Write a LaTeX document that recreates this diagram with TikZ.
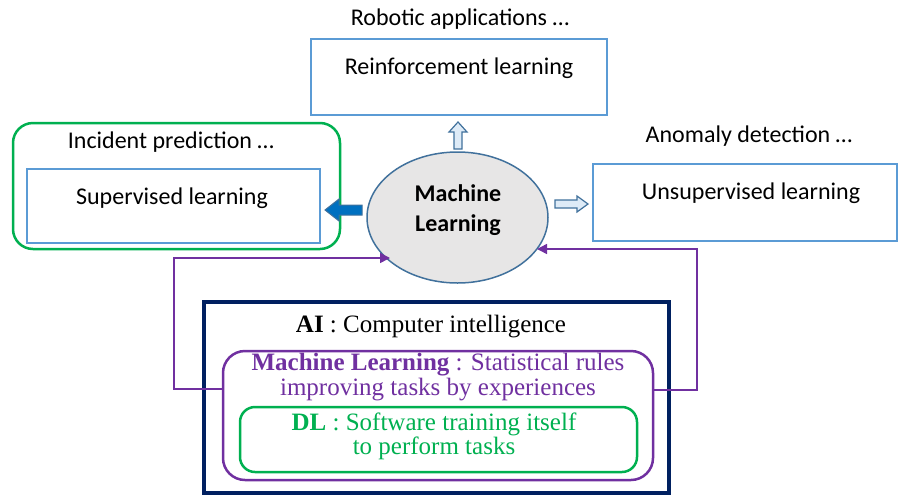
\documentclass[tikz,border=0pt]{standalone}
\usepackage{fontspec}
\setmainfont{Liberation Serif}
\newfontfamily\calibri{Carlito}
\usetikzlibrary{arrows.meta,shapes.geometric}
\definecolor{boxblue}{HTML}{5B9BD5}
\definecolor{ellblue}{HTML}{41719C}
\definecolor{ellgrey}{HTML}{E7E6E6}
\definecolor{solidblue}{HTML}{0070C0}
\definecolor{paleblue}{HTML}{DEEBF7}
\definecolor{mlpurple}{HTML}{7030A0}
\definecolor{dlgreen}{HTML}{00B050}
\definecolor{ainavy}{HTML}{002060}
\tikzset{
  appbox/.style={draw=boxblue,line width=1.5pt,inner sep=0pt},
  applbl/.style={font=\calibri\fontsize{24}{28}\selectfont,inner sep=0pt},
  serif/.style={font=\fontsize{25}{25}\selectfont,align=center,inner sep=0pt},
  hollow/.style={draw=ellblue,fill=paleblue,line width=1.2pt,line join=miter},
  feedback/.style={draw=mlpurple,line width=1.5pt,-{Triangle[length=10pt,width=10pt]}}
}
\begin{document}
\begin{tikzpicture}[x=1pt,y=-1pt]
\useasboundingbox (0,0) rectangle (899,496);
% the three kinds of learning
\node[appbox,minimum width=296pt,minimum height=76pt] (rl) at (459,77) {};
\node[applbl] (rlapp) at (460,19) {Robotic applications \dots};
\node[applbl] (rltxt) at (459,68) {Reinforcement learning};
\node[draw=dlgreen,line width=2.5pt,rounded corners=20pt,minimum width=327pt,minimum height=126pt] (slgrp) at (176.5,186) {};
\node[appbox,minimum width=293pt,minimum height=74pt] (sl) at (173.5,206) {};
\node[applbl] (slapp) at (171,142) {Incident prediction \dots};
\node[applbl] (sltxt) at (172,198) {Supervised learning};
\node[appbox,minimum width=304pt,minimum height=77pt] (ul) at (745,202.5) {};
\node[applbl] (ulapp) at (749,136) {Anomaly detection \dots};
\node[applbl] (ultxt) at (751,193) {Unsupervised learning};
% central ellipse
\node[ellipse,draw=ellblue,fill=ellgrey,line width=1.5pt,minimum width=181pt,minimum height=131pt] (ml) at (457.5,217.5) {};
\node[applbl,font=\calibri\bfseries\fontsize{24}{30}\selectfont,align=center] (mltxt) at (458,210) {Machine\\Learning};
% block arrows
\draw[hollow] (454,149) -- (454,132) -- (449,132) -- (458,122) -- (467,132) -- (462,132) -- (462,149) -- cycle;
\draw[hollow] (555,200) -- (577,200) -- (577,196) -- (588,204) -- (577,212) -- (577,208) -- (555,208) -- cycle;
\draw[draw=ellblue,fill=solidblue,line width=1pt] (362,205) -- (339,205) -- (339,199) -- (325,210) -- (339,221) -- (339,215) -- (362,215) -- cycle;
% nested definitions
\node[draw=ainavy,line width=4pt,minimum width=465pt,minimum height=191pt] (ai) at (436.5,397.5) {};
\node[serif] (aitxt) at (431,327) {\textbf{AI} : Computer intelligence};
\node[draw=mlpurple,line width=2.5pt,rounded corners=22pt,minimum width=430pt,minimum height=129pt] (mlbox) at (438,415.5) {};
\node[serif,text=mlpurple] (mlboxtxt) at (438,377) {\textbf{Machine Learning} : Statistical rules\\improving tasks by experiences};
\node[draw=dlgreen,line width=2.5pt,rounded corners=15pt,minimum width=397pt,minimum height=65pt] (dl) at (438.5,439.5) {};
\node[serif,font=\fontsize{25}{24}\selectfont,text=dlgreen] (dltxt) at (434,436) {\textbf{DL} : Software training itself\\to perform tasks};
% feedback into machine learning
\coordinate (inL) at (390,258);
\coordinate (inR) at (537,249);
\draw[feedback] (mlbox.west |- 0,389) -- (174,389) |- (inL);
\draw[feedback] (mlbox.east |- 0,390) -- (697,390) |- (inR);
\end{tikzpicture}
\end{document}
